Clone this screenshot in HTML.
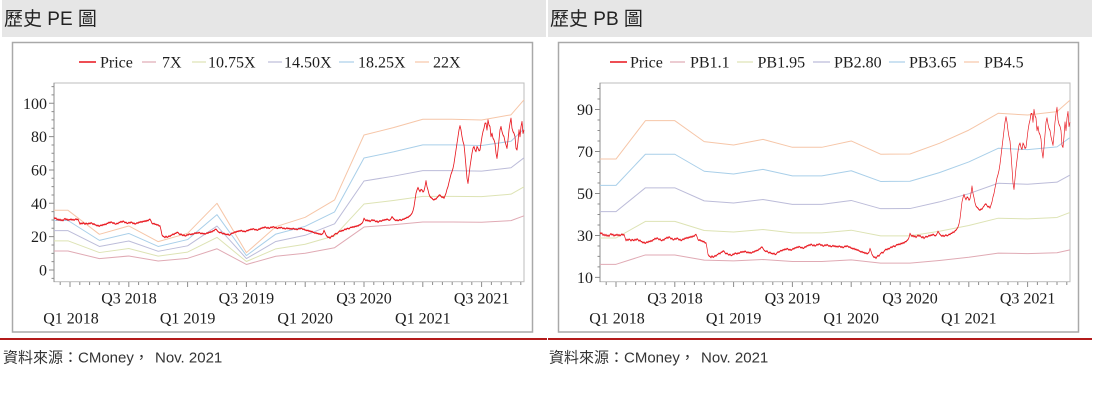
<!DOCTYPE html>
<html>
<head>
<meta charset="utf-8">
<style>
html,body{margin:0;padding:0;background:#fff;}
body{width:1094px;height:417px;overflow:hidden;}
svg{display:block;}
.ser{font-family:"Liberation Serif","Times New Roman",serif;font-size:16px;fill:#1e1e1e;}
.ttl{font-family:"Liberation Sans","Noto Sans CJK TC",sans-serif;font-size:19px;fill:#222;}
.src{font-family:"Liberation Sans","Noto Sans CJK TC",sans-serif;font-size:15px;fill:#333;}
.band{fill:none;stroke-width:1;stroke-linejoin:round;}
</style>
</head>
<body>
<svg width="1094" height="417" viewBox="0 0 1094 417" xmlns="http://www.w3.org/2000/svg">
<defs>
<path id="price" fill="none" stroke-linejoin="round" d="M54,31.5 L55,30.8 56,31.2 57,30 58,30.6 59,29.8 60,30.5 61,29.6 62,30.2 63,29.5 64,30.4 65,30.9 66,30.2 67,30.6 68,29.7 69,30.3 70,30 71,30.6 72,29.9 73,30.4 74,29.8 75,30.3 76,30.7 77,30.1 78,30.5 79,29 80,27.5 81,28.2 82,27.6 83,28.3 84,28 85,27.4 86,28.1 87,27.8 88,27.5 89,28.2 90,27.7 91,28.4 92,28 93,27.3 94,27.8 95,27.1 96,27 97,26.4 98,26.9 99,26.2 100,26.5 101,27 102,26.6 103,27.3 104,27 105,27.6 106,27.2 107,28 108,28 109,28.7 110,28.2 111,28.9 112,28.5 113,27.9 114,28.4 115,27.6 116,27.5 117,28.1 118,27.7 119,28.6 120,28.5 121,29.2 122,28.6 123,29.4 124,29 125,28.3 126,28.7 127,27.9 128,28 129,28.6 130,28.1 131,28.8 132,28.5 133,27.8 134,28.2 135,27.5 136,27.8 137,28.4 138,28 139,28.8 140,28.5 141,29.1 142,28.6 143,29.3 144,29 145,29.6 146,29.1 147,29.8 148,29.5 149,30.2 150,30.5 151,29.4 152,28 153,27.6 154,28 155,27.3 156,27.5 157,26.9 158,27.2 159,26.4 160,26.5 161,24 162,21 163,20.2 164,20 165,19.4 166,20.3 167,19.6 168,19.8 169,20.5 170,20.1 171,20.8 172,21 173,21.6 174,21.2 175,22 176,22 177,22.6 178,22.5 179,21.7 180,21.2 181,21.6 182,21 183,20.6 184,21.1 185,20.4 186,20.5 187,21.2 188,20.9 189,21.6 190,21.5 191,21.1 192,21.7 193,21.4 194,21.8 195,22.3 196,21.9 197,22.4 198,22 199,22.6 200,22.2 201,21.7 202,22.2 203,21.6 204,22 205,21.5 206,21.8 207,22.3 208,22 209,22.7 210,22.5 211,23 212,22.8 213,23.6 214,23.5 215,24.3 216,24.5 217,23.8 218,23 219,22.6 220,22.3 221,22.7 222,22 223,21.6 224,22.1 225,21.4 226,21.5 227,21.1 228,21.6 229,20.9 230,21 231,21.7 232,22.2 233,22 234,22.5 235,22.9 236,22.6 237,23.3 238,23 239,23.6 240,23.2 241,23.8 242,23.5 243,23 244,23.4 245,22.9 246,23.2 247,23.8 248,23.5 249,24.2 250,24 251,24.6 252,24.2 253,24.8 254,24.5 255,24 256,24.4 257,23.8 258,24 259,24.7 260,24.4 261,25.2 262,25 263,25.6 264,25.2 265,25.9 266,25.5 267,25 268,25.6 269,24.9 270,25.2 271,25.8 272,25.4 273,26 274,25.8 275,25.2 276,25.6 277,24.9 278,25 279,25.6 280,25.1 281,25.7 282,25.3 283,24.8 284,25.2 285,24.6 286,24.8 287,25.3 288,24.7 289,25.1 290,24.5 291,24.9 292,24.4 293,25 294,24.8 295,24.3 296,24.7 297,24.1 298,24.5 299,25 300,24.6 301,25.1 302,24.8 303,24.3 304,24.6 305,23.9 306,24 307,23.5 308,23.9 309,23.2 310,23.5 311,22.9 312,23.2 313,22.6 314,22.5 315,22 316,22.4 317,21.8 318,22 319,21.4 320,21.8 321,21.2 322,21.5 323,22 324,23.8 325,22.5 326,21 327,20.2 328,19.5 329,19.8 330,19 331,19.9 332,20.5 333,20.1 334,21 335,21.6 336,22 337,21.6 338,22.4 339,23 340,23.5 341,23.1 342,23.8 343,23.5 344,24 345,24.6 346,24.2 347,24.9 348,25 349,24.6 350,25.3 351,25.7 352,25.5 353,26 354,25.6 355,26.3 356,26 357,26.6 358,26.3 359,27 360,27 361,27.6 362,28 363,29 364,31 365,30.2 366,29.5 367,30.1 368,29.3 369,29.8 370,29 371,29.6 372,30.2 373,29.6 374,30 375,29.4 376,28.9 377,29.5 378,28.5 379,29.1 380,29.6 381,29.2 382,29.5 383,30.1 384,29.7 385,30.3 386,30 387,30.6 388,30.2 389,29.8 390,30 391,30.8 392,32 393,31.2 394,30.5 395,30 396,29.6 397,30.1 398,29.5 399,29.9 400,30.3 401,29.8 402,30 403,30.6 404,30.4 405,31 406,31 407,31.7 408,31.4 409,32.2 410,32.5 411,33.2 412,34 413,35.5 414,38 415,42 416,46 417,48 418,49.5 419,48 420,47 421,48.3 422,48 423,46.8 424,47.5 425,50 426,53.5 427,50 428,48 429,45.5 430,44 431,43.4 432,43 433,42.3 434,42 435,42.6 436,42.5 437,43.4 438,44 439,44.8 440,45 441,44.2 442,43.5 443,43.9 444,43 445,44.5 446,46 447,48.4 448,50 449,52.6 450,55 451,57.4 452,59 453,61 454,64 455,68 456,72 457,76 458,80 459,84 460,86.5 461,84 462,80 463,77 464,75 465,69 466,62 467,55 468,52 469,57 470,62 471,66 472,70 473,73 474,74 475,72 476,71 477,74 478,73 479,71.5 480,72 481,76 482,80 483,83 484,85 485,88 486,88 487,84 488,90 489,87 490,86 491,80 492,82 493,79 494,78 495,76 496,70 497,67 498,72 499,78 500,84 501,86 502,83 503,81 504,80 505,77 506,75 507,73 508,78 509,84 510,88 511,91 512,85 513,83 514,82 515,80 516,73 517,72 518,77 519,84 520,80 521,86 522,89 523,82 524,84"/>
<g id="xaxis">
<path d="M60.2,282V285M70,282V287M79.8,282V285M89.6,282V285M99.4,282V285M109.2,282V285M119,282V285M128.8,282V287M138.6,282V285M148.4,282V285M158.2,282V285M168,282V285M177.8,282V285M187.6,282V287M197.4,282V285M207.2,282V285M217,282V285M226.8,282V285M236.6,282V285M246.4,282V287M256.2,282V285M266,282V285M275.8,282V285M285.6,282V285M295.4,282V285M305.2,282V287M315,282V285M324.8,282V285M334.6,282V285M344.4,282V285M354.2,282V285M364,282V287M373.8,282V285M383.6,282V285M393.4,282V285M403.2,282V285M413,282V285M422.8,282V287M432.6,282V285M442.4,282V285M452.2,282V285M462,282V285M471.8,282V285M481.6,282V287M491.4,282V285M501.2,282V285M511,282V285M520.8,282V285" stroke="#8c8c8c" stroke-width="1" fill="none"/>
<text class="ser" x="129" y="303.5" text-anchor="middle">Q3 2018</text>
<text class="ser" x="246.4" y="303.5" text-anchor="middle">Q3 2019</text>
<text class="ser" x="364" y="303.5" text-anchor="middle">Q3 2020</text>
<text class="ser" x="481.6" y="303.5" text-anchor="middle">Q3 2021</text>
<text class="ser" x="71" y="323.5" text-anchor="middle">Q1 2018</text>
<text class="ser" x="187.6" y="323.5" text-anchor="middle">Q1 2019</text>
<text class="ser" x="305.2" y="323.5" text-anchor="middle">Q1 2020</text>
<text class="ser" x="422.8" y="323.5" text-anchor="middle">Q1 2021</text>
</g>
</defs>

<!-- headers -->
<rect x="2" y="0" width="544" height="37" fill="#e6e6e6"/>
<rect x="548" y="0" width="544" height="37" fill="#e6e6e6"/>
<text class="ttl" x="4" y="25">歷史 PE 圖</text>
<text class="ttl" x="550" y="25">歷史 PB 圖</text>

<!-- ========== LEFT PE CHART ========== -->
<rect x="12.5" y="42.5" width="520" height="289.5" fill="#fff" stroke="#a9a9a9" stroke-width="1.5"/>
<rect x="54" y="83" width="470" height="198.7" fill="#fff" stroke="#bdbdbd" stroke-width="1"/>
<line x1="54" y1="83" x2="54" y2="282" stroke="#8c8c8c" stroke-width="1"/>
<!-- legend -->
<line x1="79" y1="62" x2="96" y2="62" stroke="#e8141c" stroke-width="1.5"/>
<text class="ser" x="100" y="67.5">Price</text>
<line x1="142" y1="62" x2="156" y2="62" stroke="#e0aab4" stroke-width="1.2"/>
<text class="ser" x="162" y="67.5">7X</text>
<line x1="192" y1="62" x2="206" y2="62" stroke="#dde3b4" stroke-width="1.2"/>
<text class="ser" x="208" y="67.5">10.75X</text>
<line x1="268" y1="62" x2="282" y2="62" stroke="#bcbcd9" stroke-width="1.2"/>
<text class="ser" x="284" y="67.5">14.50X</text>
<line x1="339" y1="62" x2="354" y2="62" stroke="#a9cfe9" stroke-width="1.2"/>
<text class="ser" x="358" y="67.5">18.25X</text>
<line x1="415" y1="62" x2="429" y2="62" stroke="#f6c6a8" stroke-width="1.2"/>
<text class="ser" x="433" y="67.5">22X</text>
<!-- y ticks -->
<path stroke="#8c8c8c" stroke-width="1" fill="none" d="M49,270H54M49,236.65H54M49,203.3H54M49,169.95H54M49,136.6H54M49,103.25H54M51.5,278.34H54M51.5,261.66H54M51.5,253.33H54M51.5,244.99H54M51.5,228.31H54M51.5,219.98H54M51.5,211.64H54M51.5,194.96H54M51.5,186.63H54M51.5,178.29H54M51.5,161.61H54M51.5,153.28H54M51.5,144.94H54M51.5,128.26H54M51.5,119.93H54M51.5,111.59H54M51.5,94.91H54M51.5,86.58H54"/>
<text class="ser" x="47" y="275.5" text-anchor="end">0</text>
<text class="ser" x="47" y="242.2" text-anchor="end">20</text>
<text class="ser" x="47" y="208.8" text-anchor="end">40</text>
<text class="ser" x="47" y="175.5" text-anchor="end">60</text>
<text class="ser" x="47" y="142.1" text-anchor="end">80</text>
<text class="ser" x="47" y="108.8" text-anchor="end">100</text>
<use href="#xaxis"/>
<!-- bands -->
<path class="band" stroke="#e0aab4" d="M54,251 L68,251 99.4,258.64 128.8,255.99 158.2,260.98 187.6,258.33 217,248.78 246.4,264.48 275.8,256.23 305.2,253.24 334.6,247.72 364,227.05 393.4,224.71 422.8,222.03 452.2,222.03 481.6,222.26 511,220.63 524,215.84"/>
<path class="band" stroke="#dde3b4" d="M54,240.84 L68,240.84 99.4,252.56 128.8,248.49 158.2,256.14 187.6,252.07 217,237.41 246.4,261.52 275.8,248.85 305.2,244.26 334.6,235.78 364,204.03 393.4,200.45 422.8,196.33 452.2,196.33 481.6,196.68 511,194.17 524,186.83"/>
<path class="band" stroke="#bcbcd9" d="M54,230.66 L68,230.66 99.4,246.47 128.8,240.99 158.2,251.31 187.6,245.82 217,226.04 246.4,258.56 275.8,241.47 305.2,235.28 334.6,223.84 364,181.02 393.4,176.19 422.8,170.63 452.2,170.63 481.6,171.11 511,167.72 524,157.81"/>
<path class="band" stroke="#a9cfe9" d="M54,220.49 L68,220.49 99.4,240.39 128.8,233.48 158.2,246.48 187.6,239.57 217,214.67 246.4,255.61 275.8,234.09 305.2,226.3 334.6,211.91 364,158.01 393.4,151.92 422.8,144.92 452.2,144.92 481.6,145.53 511,141.27 524,128.8"/>
<path class="band" stroke="#f6c6a8" d="M54,210.31 L68,210.31 99.4,234.31 128.8,225.98 158.2,241.64 187.6,233.31 217,203.31 246.4,252.65 275.8,226.71 305.2,217.32 334.6,199.97 364,135 393.4,127.66 422.8,119.22 452.2,119.22 481.6,119.96 511,114.82 524,99.78"/>
<use href="#price" stroke="#e8141c" stroke-width="0.8" transform="translate(0,270) scale(1,-1.6675)"/>

<!-- ========== RIGHT PB CHART ========== -->
<rect x="558.5" y="42.5" width="520" height="289.5" fill="#fff" stroke="#a9a9a9" stroke-width="1.5"/>
<rect x="600" y="83" width="470" height="198.7" fill="#fff" stroke="#bdbdbd" stroke-width="1"/>
<line x1="600" y1="83" x2="600" y2="282" stroke="#8c8c8c" stroke-width="1"/>
<!-- legend -->
<line x1="610" y1="62" x2="627" y2="62" stroke="#e8141c" stroke-width="1.5"/>
<text class="ser" x="630" y="67.5">Price</text>
<line x1="670" y1="62" x2="685" y2="62" stroke="#e0aab4" stroke-width="1.2"/>
<text class="ser" x="690" y="67.5">PB1.1</text>
<line x1="737" y1="62" x2="753" y2="62" stroke="#dde3b4" stroke-width="1.2"/>
<text class="ser" x="757.5" y="67.5">PB1.95</text>
<line x1="813" y1="62" x2="830" y2="62" stroke="#bcbcd9" stroke-width="1.2"/>
<text class="ser" x="834" y="67.5">PB2.80</text>
<line x1="889" y1="62" x2="905" y2="62" stroke="#a9cfe9" stroke-width="1.2"/>
<text class="ser" x="909" y="67.5">PB3.65</text>
<line x1="964" y1="62" x2="979" y2="62" stroke="#f6c6a8" stroke-width="1.2"/>
<text class="ser" x="984" y="67.5">PB4.5</text>
<!-- y ticks -->
<path stroke="#8c8c8c" stroke-width="1" fill="none" d="M595,277.42H600M595,235.45H600M595,193.48H600M595,151.51H600M595,109.54H600M597.5,266.92H600M597.5,256.43H600M597.5,245.94H600M597.5,224.95H600M597.5,214.46H600M597.5,203.97H600M597.5,182.99H600M597.5,172.49H600M597.5,162.0H600M597.5,141.02H600M597.5,130.53H600M597.5,120.03H600M597.5,99.05H600M597.5,88.55H600"/>
<text class="ser" x="593" y="282.9" text-anchor="end">10</text>
<text class="ser" x="593" y="240.9" text-anchor="end">30</text>
<text class="ser" x="593" y="199" text-anchor="end">50</text>
<text class="ser" x="593" y="157" text-anchor="end">70</text>
<text class="ser" x="593" y="115" text-anchor="end">90</text>
<use href="#xaxis" transform="translate(546,0)"/>
<!-- bands -->
<path class="band" stroke="#e0aab4" d="M600,264.33 L616,264.33 645.4,254.96 674.8,254.96 704.2,260.08 733.6,260.91 763,259.53 792.4,261.47 821.8,261.47 851.2,259.92 880.6,263.15 910,263.11 939.4,260.5 968.8,257.27 998.2,253.16 1027.6,253.57 1057,252.74 1070,249.92"/>
<path class="band" stroke="#dde3b4" d="M600,238 L616,238 645.4,221.39 674.8,221.39 704.2,230.47 733.6,231.94 763,229.49 792.4,232.93 821.8,232.93 851.2,230.19 880.6,235.91 910,235.83 939.4,231.21 968.8,225.48 998.2,218.19 1027.6,218.93 1057,217.46 1070,212.47"/>
<path class="band" stroke="#bcbcd9" d="M600,211.67 L616,211.67 645.4,187.82 674.8,187.82 704.2,200.86 733.6,202.98 763,199.45 792.4,204.39 821.8,204.39 851.2,200.45 880.6,208.68 910,208.56 939.4,201.92 968.8,193.69 998.2,183.23 1027.6,184.29 1057,182.18 1070,175.01"/>
<path class="band" stroke="#a9cfe9" d="M600,185.35 L616,185.35 645.4,154.25 674.8,154.25 704.2,171.25 733.6,174.01 763,169.41 792.4,175.85 821.8,175.85 851.2,170.72 880.6,181.44 910,181.29 939.4,172.63 968.8,161.91 998.2,148.27 1027.6,149.65 1057,146.89 1070,137.55"/>
<path class="band" stroke="#f6c6a8" d="M600,159.02 L616,159.02 645.4,120.68 674.8,120.68 704.2,141.64 733.6,145.04 763,139.38 792.4,147.31 821.8,147.31 851.2,140.98 880.6,154.2 910,154.01 939.4,143.34 968.8,130.12 998.2,113.31 1027.6,115.01 1057,111.61 1070,100.09"/>
<use href="#price" stroke="#e8141c" stroke-width="0.65" transform="translate(546,298.4) scale(1,-2.0985)"/>

<!-- separators & source -->
<rect x="0" y="338" width="547" height="2" fill="#b31b1b"/>
<rect x="548" y="338" width="544" height="2" fill="#b31b1b"/>
<text class="src" x="3" y="362.5">資料來源：CMoney，</text>
<text class="src" x="155" y="362.5">Nov. 2021</text>
<text class="src" x="549" y="362.5">資料來源：CMoney，</text>
<text class="src" x="701" y="362.5">Nov. 2021</text>
</svg>
</body>
</html>
